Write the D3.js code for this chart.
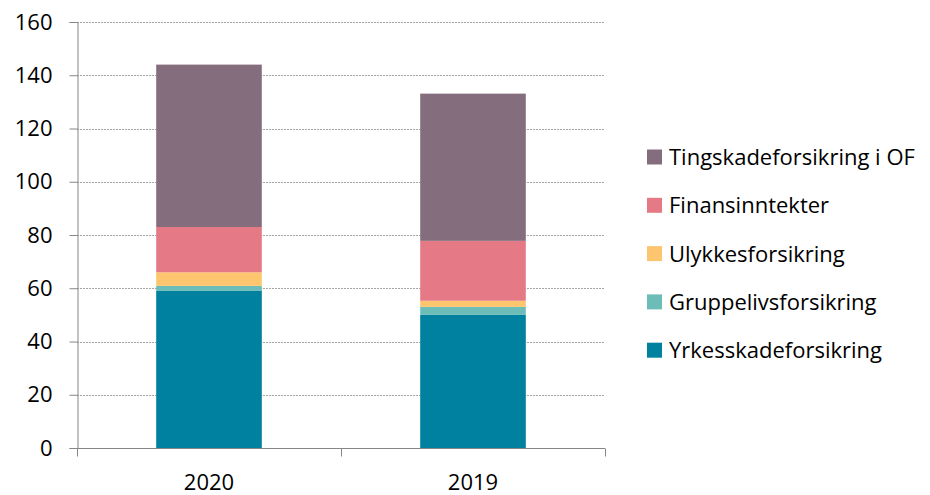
<!DOCTYPE html>
<html>
<head>
<meta charset="utf-8">
<script src="https://cdn.jsdelivr.net/npm/d3@7"></script>
<style>
  body { margin: 0; background: #fff; }
  text { font-family: "Open Sans", sans-serif; fill: #000; }
</style>
</head>
<body>
<div class="canva"></div>
<script>
// data
const years = ['2020', '2019']
const seriesNames = ['Yrkesskadeforsikring', 'Gruppelivsforsikring', 'Ulykkesforsikring', 'Finansinntekter', 'Tingskadeforsikring i OF']
const yrkesskade = [59, 50]
const gruppeliv = [1.9, 3]
const ulykkes = [5.1, 2.3]
const finans = [17, 22.5]
const tingskade = [61, 55.3]
const yTicks = [0, 20, 40, 60, 80, 100, 120, 140, 160]

const colors = ['#00819f', '#6cbcb8', '#fdc66e', '#e57a86', '#846e7e']

const width = 930
const height = 495
const margin = { top: 22, left: 77, right: 325, bottom: 47 }
const fontSize = '22px'

const svg = d3.select('.canva').append('svg')
  .attr('width', width)
  .attr('height', height)

const rows = years.map((y, i) => ({
  year: y,
  [seriesNames[0]]: yrkesskade[i],
  [seriesNames[1]]: gruppeliv[i],
  [seriesNames[2]]: ulykkes[i],
  [seriesNames[3]]: finans[i],
  [seriesNames[4]]: tingskade[i]
}))
const stacked = d3.stack().keys(seriesNames)(rows)

const x = d3.scaleBand()
  .domain(years)
  .range([margin.left, width - margin.right])
  .paddingInner(0.6)
  .paddingOuter(0.3)

const y = d3.scaleLinear()
  .domain([0, 160])
  .range([height - margin.bottom, margin.top])

// gridlines
svg.append('g')
  .selectAll('line')
  .data(yTicks.filter(d => d > 0))
  .enter()
  .append('line')
  .attr('x1', margin.left)
  .attr('x2', width - margin.right)
  .attr('y1', d => Math.round(y(d)) + 0.5)
  .attr('y2', d => Math.round(y(d)) + 0.5)
  .attr('stroke', '#a6a6a6')
  .attr('stroke-dasharray', '2,1')

// bars
svg.append('g')
  .selectAll('g')
  .data(stacked)
  .enter()
  .append('g')
  .attr('fill', (d, i) => colors[i])
  .selectAll('rect')
  .data(d => d)
  .enter()
  .append('rect')
  .attr('x', d => x(d.data.year))
  .attr('width', x.bandwidth())
  .attr('y', d => y(d[1]))
  .attr('height', d => y(d[0]) - y(d[1]))

// y axis
const yAxis = svg.append('g')
  .attr('transform', `translate(${margin.left + 0.5},0)`)
  .call(d3.axisLeft(y).tickValues(yTicks).tickSize(8).tickPadding(17))
yAxis.select('.domain').attr('stroke', '#868686')
yAxis.selectAll('.tick line').attr('stroke', '#868686')
yAxis.selectAll('text').style('font-size', fontSize).style('font-family', '"Open Sans", sans-serif')

// x axis
const xEdges = d3.scaleLinear().domain([0, 2]).range([margin.left, width - margin.right])
const xAxis = svg.append('g')
  .attr('transform', `translate(0,${Math.round(y(0)) + 0.5})`)
xAxis.append('line')
  .attr('x1', margin.left).attr('x2', width - margin.right)
  .attr('stroke', '#868686')
xAxis.selectAll('.sep')
  .data([0, 1, 2])
  .enter()
  .append('line')
  .attr('x1', d => Math.round(xEdges(d)) + 0.5)
  .attr('x2', d => Math.round(xEdges(d)) + 0.5)
  .attr('y1', 0).attr('y2', 8)
  .attr('stroke', '#868686')
xAxis.selectAll('text')
  .data(years)
  .enter()
  .append('text')
  .attr('x', d => x(d) + x.bandwidth() / 2)
  .attr('y', 41)
  .attr('text-anchor', 'middle')
  .style('font-size', fontSize)
  .text(d => d)

// legend (reverse order)
const legend = svg.append('g')
  .selectAll('g')
  .data(seriesNames.slice().reverse())
  .enter()
  .append('g')
  .attr('transform', (d, i) => `translate(647,${157 + i * 48.3})`)
legend.append('rect')
  .attr('x', 0).attr('y', -7.5)
  .attr('width', 15).attr('height', 15)
  .attr('fill', d => colors[seriesNames.indexOf(d)])
legend.append('text')
  .attr('x', 22)
  .attr('y', 8)
  .style('font-size', fontSize)
  .text(d => d)
</script>
</body>
</html>
